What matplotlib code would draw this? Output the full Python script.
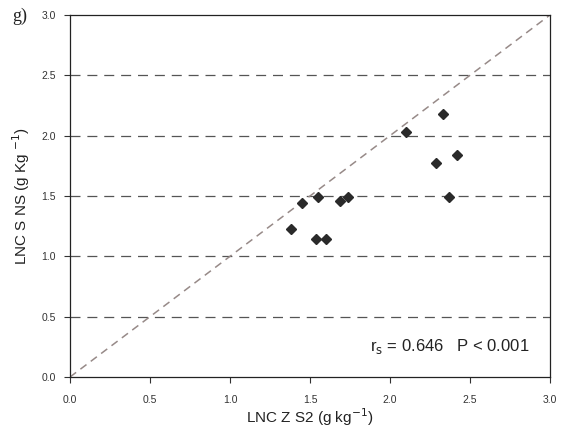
import matplotlib
matplotlib.use("Agg")
import matplotlib.pyplot as plt
import numpy as np

# data
lnc_z_s2 = [1.38, 1.45, 1.54, 1.55, 1.60, 1.69, 1.74, 2.10, 2.29, 2.33, 2.37, 2.42]
lnc_s_ns = [1.23, 1.44, 1.14, 1.49, 1.14, 1.46, 1.49, 2.03, 1.77, 2.18, 1.49, 1.84]
ticks = [0.0, 0.5, 1.0, 1.5, 2.0, 2.5, 3.0]
tick_labels = ["0.0", "0.5", "1.0", "1.5", "2.0", "2.5", "3.0"]
one_to_one = [0.0, 3.0]

plt.rcParams['font.family'] = ['Liberation Sans', 'DejaVu Sans']

fig = plt.figure(figsize=(5.62, 4.38), dpi=100)
ax = fig.add_axes([0.1246, 0.1393, 0.854, 0.8265])

# horizontal dashed gridlines
for t in ticks[1:-1]:
    ax.axhline(t, color='#555555', lw=0.9, dashes=(8, 5.5), zorder=1)

# 1:1 line
ax.plot(one_to_one, one_to_one, color='#978a88', lw=1.1, dashes=(5, 3.5), zorder=2)

ax.plot(lnc_z_s2, lnc_s_ns, linestyle='none', marker='D', ms=5.4,
        color='#2a2a2a', zorder=3)

ax.set_xlim(0, 3)
ax.set_ylim(0, 3)
ax.set_xticks(ticks, tick_labels)
ax.set_yticks(ticks, tick_labels)
ax.tick_params(direction='out', length=4, width=0.8, labelsize=7.5,
               colors='#333333', pad=6)
ax.tick_params(axis='x', pad=9)
for s in ax.spines.values():
    s.set_linewidth(0.9)
    s.set_color('#222222')

ax.set_xlabel("LNC Z S2 (g kg$^{-1}$)", fontsize=11, color='#222222', labelpad=1)
ax.set_ylabel("LNC S NS (g Kg $^{-1}$)", fontsize=11, color='#222222', labelpad=7)

ax.text(0.958, 0.083, "r$_{\\rm s}$ = 0.646   P < 0.001", transform=ax.transAxes,
        ha='right', va='center', fontsize=12, color='#222222')

fig.text(0.022, 0.962, "g)", fontsize=13, family=['Liberation Serif', 'DejaVu Serif'],
         ha='left', va='center', color='#222222')

fig.savefig("out.png", dpi=100)
